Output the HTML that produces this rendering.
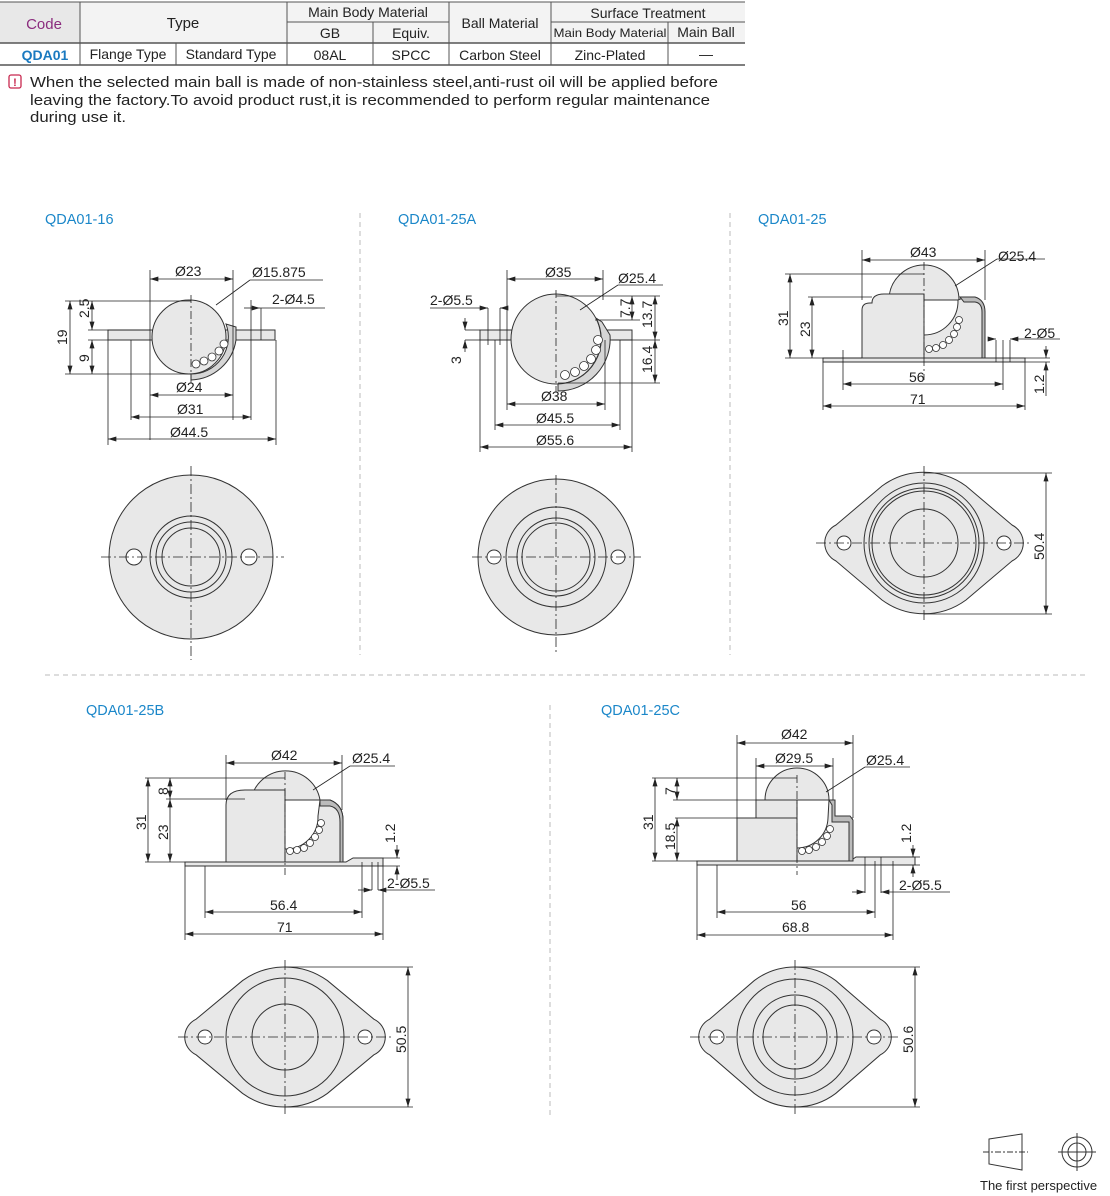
<!DOCTYPE html>
<html><head><meta charset="utf-8">
<style>
html,body{margin:0;padding:0;background:#fff;}
svg{display:block;}
text{font-family:"Liberation Sans",Arial,sans-serif;}
</style></head>
<body>
<svg width="1110" height="1196" viewBox="0 0 1110 1196" xmlns="http://www.w3.org/2000/svg">
<defs>
<marker id="a" viewBox="0 0 10 6" refX="10" refY="3" markerWidth="9" markerHeight="5" orient="auto-start-reverse" markerUnits="userSpaceOnUse"><path d="M0,0 L10,3 L0,6 Z" fill="#222"/></marker>
<path id="fl" d="M-88,-18 L-42,-57 A71,71 0 0 1 42,-57 L88,-18 A20,20 0 0 1 88,18 L42,57 A71,71 0 0 1 -42,57 L-88,18 A20,20 0 0 1 -88,-18 Z"/>
</defs>

<!-- TABLE -->
<rect x="0" y="2" width="80" height="41" fill="#e8e8e8"/>
<rect x="80" y="2" width="665" height="41" fill="#f3f3f3"/>
<g stroke="#555" stroke-width="1" fill="none">
<line x1="0" y1="2" x2="745" y2="2"/>
<line x1="0" y1="43" x2="745" y2="43" stroke-width="1.5"/>
<line x1="0" y1="65" x2="745" y2="65" stroke-width="1.5"/>
<line x1="287" y1="22" x2="449" y2="22"/>
<line x1="551" y1="22" x2="745" y2="22"/>
<line x1="80" y1="2" x2="80" y2="65"/>
<line x1="176" y1="43" x2="176" y2="65"/>
<line x1="287" y1="2" x2="287" y2="65"/>
<line x1="373" y1="22" x2="373" y2="65"/>
<line x1="449" y1="2" x2="449" y2="65"/>
<line x1="551" y1="2" x2="551" y2="65"/>
<line x1="668" y1="22" x2="668" y2="65"/>
</g>
<g font-size="14" fill="#222" text-anchor="middle">
<text x="44" y="29" fill="#8b2c7e" font-size="15">Code</text>
<text x="183" y="28" font-size="15">Type</text>
<text x="368" y="17">Main Body Material</text>
<text x="330" y="38">GB</text>
<text x="411" y="38">Equiv.</text>
<text x="500" y="28">Ball Material</text>
<text x="648" y="18">Surface Treatment</text>
<text x="610" y="37" font-size="12" textLength="113" lengthAdjust="spacingAndGlyphs">Main Body Material</text>
<text x="706" y="37">Main Ball</text>
<text x="45" y="60" fill="#1a7ac0" font-weight="bold">QDA01</text>
<text x="128" y="59">Flange Type</text>
<text x="231" y="59">Standard Type</text>
<text x="330" y="60">08AL</text>
<text x="411" y="60">SPCC</text>
<text x="500" y="60">Carbon Steel</text>
<text x="610" y="60">Zinc-Plated</text>
<text x="706" y="59">—</text>
</g>
<rect x="9" y="75" width="12" height="13" rx="2" fill="#fff" stroke="#c8284f" stroke-width="1.3"/>
<text x="15" y="86" font-size="11" fill="#c8284f" text-anchor="middle" font-weight="bold">!</text>
<g font-size="14.5" fill="#222">
<text x="30" y="87" textLength="688" lengthAdjust="spacingAndGlyphs">When the selected main ball is made of non-stainless steel,anti-rust oil will be applied before</text>
<text x="30" y="105" textLength="680" lengthAdjust="spacingAndGlyphs">leaving the factory.To avoid product rust,it is recommended to perform regular maintenance</text>
<text x="30" y="122" textLength="96" lengthAdjust="spacingAndGlyphs">during use it.</text>
</g>

<!-- separators -->
<g stroke="#bbb" stroke-dasharray="5,4" stroke-width="1">
<line x1="360" y1="213" x2="360" y2="655"/>
<line x1="730" y1="213" x2="730" y2="655"/>
<line x1="45" y1="675" x2="1088" y2="675"/>
<line x1="550" y1="705" x2="550" y2="1115"/>
</g>

<!-- titles -->
<g font-size="14.5" fill="#1b87c9">
<text x="45" y="224">QDA01-16</text>
<text x="398" y="224">QDA01-25A</text>
<text x="758" y="224">QDA01-25</text>
<text x="86" y="715">QDA01-25B</text>
<text x="601" y="715">QDA01-25C</text>
</g>

<g font-size="14" fill="#222">
<!-- ============ QDA01-16 side ============ -->
<g stroke="#333" stroke-width="1" fill="#e8e8e8">
<rect x="108" y="330" width="167" height="10"/>
<circle cx="189" cy="337" r="37"/>
<path d="M191,374 A37,37 0 0 0 226,324 L236,327 L236,340 A47,47 0 0 1 191,380 Z" fill="#d6d6d6"/>
</g>
<g fill="#fff" stroke="#333" stroke-width="0.8">
<circle cx="196" cy="364" r="4"/><circle cx="204" cy="361" r="4"/><circle cx="212" cy="357" r="4"/><circle cx="219" cy="351" r="4"/><circle cx="224" cy="344" r="4"/>
</g>
<g stroke="#222" stroke-width="0.8" fill="none">
<line x1="191" y1="295" x2="191" y2="384" stroke-dasharray="8,3,2,3"/>
<line x1="150" y1="270" x2="150" y2="440"/><line x1="233" y1="270" x2="233" y2="420"/>
<line x1="131" y1="340" x2="131" y2="420"/><line x1="251" y1="300" x2="251" y2="420"/>
<line x1="108" y1="340" x2="108" y2="445"/><line x1="276" y1="340" x2="276" y2="445"/>
<line x1="150" y1="279" x2="233" y2="279" marker-start="url(#a)" marker-end="url(#a)"/>
<line x1="150" y1="395" x2="233" y2="395" marker-start="url(#a)" marker-end="url(#a)"/>
<line x1="131" y1="417" x2="251" y2="417" marker-start="url(#a)" marker-end="url(#a)"/>
<line x1="108" y1="439" x2="276" y2="439" marker-start="url(#a)" marker-end="url(#a)"/>
<line x1="65" y1="301" x2="191" y2="301"/><line x1="65" y1="374" x2="191" y2="374"/>
<line x1="70" y1="301" x2="70" y2="374" marker-start="url(#a)" marker-end="url(#a)"/>
<line x1="92" y1="301" x2="92" y2="330" marker-start="url(#a)" marker-end="url(#a)"/>
<line x1="92" y1="340" x2="92" y2="374" marker-start="url(#a)" marker-end="url(#a)"/>
<line x1="88" y1="330" x2="150" y2="330"/><line x1="88" y1="340" x2="108" y2="340"/>
<line x1="216" y1="305" x2="250" y2="280"/><line x1="250" y1="280" x2="323" y2="280"/>
<line x1="260" y1="308" x2="325" y2="308"/>
<line x1="244" y1="308" x2="260" y2="308" marker-end="url(#a)"/>
<line x1="261" y1="308" x2="261" y2="340"/>
</g>
<text x="175" y="276">Ø23</text><text x="252" y="277">Ø15.875</text><text x="272" y="304">2-Ø4.5</text>
<text x="176" y="392">Ø24</text><text x="177" y="414">Ø31</text><text x="170" y="437">Ø44.5</text>
<text transform="translate(67,345) rotate(-90)">19</text>
<text transform="translate(89,318) rotate(-90)">2.5</text>
<text transform="translate(89,362) rotate(-90)">9</text>

<!-- top view 1 -->
<g stroke="#333" stroke-width="1" fill="#e8e8e8">
<circle cx="191" cy="557" r="82"/>
<circle cx="191" cy="557" r="41" fill="none"/><circle cx="191" cy="557" r="35" fill="none"/><circle cx="191" cy="557" r="29" fill="none"/>
<circle cx="134" cy="557" r="8" fill="#fff"/><circle cx="249" cy="557" r="8" fill="#fff"/>
</g>
<g stroke="#222" stroke-width="0.8" stroke-dasharray="10,3,2,3">
<line x1="101" y1="557" x2="284" y2="557"/><line x1="191" y1="466" x2="191" y2="660"/>
</g>

<!-- ============ QDA01-25A side ============ -->
<g stroke="#333" stroke-width="1" fill="#e8e8e8">
<rect x="480" y="330" width="152" height="10"/>
<circle cx="556" cy="339" r="45"/>
<path d="M558,384 A45,45 0 0 0 596,318 L602,322 L610,335 A52,52 0 0 1 558,391 Z" fill="#d6d6d6"/>
</g>
<g fill="#fff" stroke="#333" stroke-width="0.8">
<circle cx="565" cy="375" r="4.5"/><circle cx="575" cy="372" r="4.5"/><circle cx="584" cy="366" r="4.5"/><circle cx="591" cy="359" r="4.5"/><circle cx="596" cy="350" r="4.5"/><circle cx="598" cy="340" r="4.5"/>
</g>
<g stroke="#222" stroke-width="0.8" fill="none">
<line x1="556" y1="290" x2="556" y2="392" stroke-dasharray="8,3,2,3"/>
<line x1="507" y1="270" x2="507" y2="410"/><line x1="603" y1="270" x2="603" y2="300"/><line x1="605" y1="340" x2="605" y2="410"/>
<line x1="495" y1="340" x2="495" y2="430"/><line x1="620" y1="340" x2="620" y2="430"/>
<line x1="480" y1="340" x2="480" y2="452"/><line x1="632" y1="340" x2="632" y2="452"/>
<line x1="507" y1="279" x2="603" y2="279" marker-start="url(#a)" marker-end="url(#a)"/>
<line x1="507" y1="404" x2="605" y2="404" marker-start="url(#a)" marker-end="url(#a)"/>
<line x1="495" y1="425" x2="620" y2="425" marker-start="url(#a)" marker-end="url(#a)"/>
<line x1="480" y1="447" x2="632" y2="447" marker-start="url(#a)" marker-end="url(#a)"/>
<line x1="430" y1="308" x2="478" y2="308"/><line x1="478" y1="308" x2="488" y2="308" marker-end="url(#a)"/>
<line x1="488" y1="308" x2="488" y2="345"/><line x1="500" y1="308" x2="500" y2="345"/>
<line x1="508" y1="308" x2="500" y2="308" marker-end="url(#a)"/>
<line x1="465" y1="330" x2="480" y2="330"/><line x1="465" y1="340" x2="480" y2="340"/>
<line x1="465" y1="318" x2="465" y2="330" marker-end="url(#a)"/><line x1="465" y1="352" x2="465" y2="340" marker-end="url(#a)"/>
<line x1="556" y1="296" x2="660" y2="296"/><line x1="595" y1="320" x2="640" y2="320"/>
<line x1="612" y1="340" x2="660" y2="340"/><line x1="558" y1="383" x2="660" y2="383"/>
<line x1="632" y1="296" x2="632" y2="320" marker-start="url(#a)" marker-end="url(#a)"/>
<line x1="655" y1="296" x2="655" y2="340" marker-start="url(#a)" marker-end="url(#a)"/>
<line x1="655" y1="340" x2="655" y2="383" marker-start="url(#a)" marker-end="url(#a)"/>
<line x1="580" y1="310" x2="618" y2="285"/><line x1="618" y1="285" x2="663" y2="285"/>
</g>
<text x="545" y="277">Ø35</text><text x="618" y="283">Ø25.4</text><text x="430" y="305">2-Ø5.5</text>
<text x="541" y="401">Ø38</text><text x="536" y="423">Ø45.5</text><text x="536" y="445">Ø55.6</text>
<text transform="translate(461,364) rotate(-90)">3</text>
<text transform="translate(630,318) rotate(-90)">7.7</text>
<text transform="translate(652,328) rotate(-90)">13.7</text>
<text transform="translate(652,373) rotate(-90)">16.4</text>

<!-- top view 2 -->
<g stroke="#333" stroke-width="1" fill="#e8e8e8">
<circle cx="556" cy="557" r="78"/>
<circle cx="556" cy="557" r="50" fill="none"/><circle cx="556" cy="557" r="39" fill="none"/><circle cx="556" cy="557" r="34" fill="none"/>
<circle cx="494" cy="557" r="7" fill="#fff"/><circle cx="618" cy="557" r="7" fill="#fff"/>
</g>
<g stroke="#222" stroke-width="0.8" stroke-dasharray="10,3,2,3">
<line x1="472" y1="557" x2="641" y2="557"/><line x1="556" y1="475" x2="556" y2="655"/>
</g>

<!-- ============ QDA01-25 side ============ -->
<g stroke="#333" stroke-width="1" fill="#e8e8e8">
<rect x="823" y="358" width="202" height="4"/>
<path d="M889,300 A35,35 0 0 1 959,300 Z"/>
<path d="M862,358 L862,310 Q862,303 870,303 L872,303 Q872,294 884,294 L924,294 L924,358 Z"/>
<path d="M924,358 L924,335 A34,34 0 0 0 958,300 L965,297 L977,300 Q985,304 985,315 L985,358 Z"/>
<path d="M960,297 L975,297 Q985,300 985,312 L985,358 L982,358 L982,312 Q982,303 975,302 L964,302 Z" fill="#bbb"/>
</g>
<g fill="#fff" stroke="#333" stroke-width="0.8">
<circle cx="929" cy="349" r="3.5"/><circle cx="936" cy="348" r="3.5"/><circle cx="943" cy="345" r="3.5"/><circle cx="949" cy="340" r="3.5"/><circle cx="954" cy="334" r="3.5"/><circle cx="957" cy="327" r="3.5"/><circle cx="959" cy="320" r="3.5"/>
</g>
<g stroke="#222" stroke-width="0.8" fill="none">
<line x1="924" y1="262" x2="924" y2="380" stroke-dasharray="8,3,2,3"/>
<line x1="862" y1="250" x2="862" y2="300"/><line x1="985" y1="250" x2="985" y2="300"/>
<line x1="862" y1="260" x2="985" y2="260" marker-start="url(#a)" marker-end="url(#a)"/>
<line x1="843" y1="350" x2="843" y2="390"/><line x1="1003" y1="340" x2="1003" y2="390"/>
<line x1="823" y1="362" x2="823" y2="410"/><line x1="1025" y1="362" x2="1025" y2="410"/>
<line x1="843" y1="384" x2="1003" y2="384" marker-start="url(#a)" marker-end="url(#a)"/>
<line x1="823" y1="406" x2="1025" y2="406" marker-start="url(#a)" marker-end="url(#a)"/>
<line x1="785" y1="274" x2="924" y2="274"/><line x1="785" y1="358" x2="862" y2="358"/>
<line x1="808" y1="297" x2="872" y2="297"/>
<line x1="790" y1="274" x2="790" y2="358" marker-start="url(#a)" marker-end="url(#a)"/>
<line x1="812" y1="297" x2="812" y2="358" marker-start="url(#a)" marker-end="url(#a)"/>
<line x1="955" y1="286" x2="997" y2="259"/><line x1="997" y1="259" x2="1045" y2="259"/>
<line x1="996" y1="340" x2="996" y2="362"/><line x1="1010" y1="340" x2="1010" y2="362"/>
<line x1="988" y1="339" x2="996" y2="339" marker-end="url(#a)"/><line x1="1060" y1="339" x2="1010" y2="339" marker-end="url(#a)"/>
<line x1="1025" y1="358" x2="1050" y2="358"/><line x1="1025" y1="362" x2="1050" y2="362"/>
<line x1="1046" y1="346" x2="1046" y2="358" marker-end="url(#a)"/><line x1="1046" y1="374" x2="1046" y2="362" marker-end="url(#a)"/>
<line x1="1046" y1="374" x2="1046" y2="396"/>
</g>
<text x="910" y="257">Ø43</text><text x="998" y="261">Ø25.4</text><text x="1024" y="338">2-Ø5</text>
<text x="909" y="382">56</text><text x="910" y="404">71</text>
<text transform="translate(788,326) rotate(-90)">31</text>
<text transform="translate(810,337) rotate(-90)">23</text>
<text transform="translate(1044,394) rotate(-90)">1.2</text>

<!-- top view 3 -->
<use href="#fl" transform="translate(924,543)" fill="#e8e8e8" stroke="#333" stroke-width="1"/>
<g stroke="#333" stroke-width="1" fill="none">
<circle cx="924" cy="543" r="60"/><circle cx="924" cy="543" r="55"/><circle cx="924" cy="543" r="52"/><circle cx="924" cy="543" r="34"/>
<circle cx="844" cy="543" r="7" fill="#fff"/><circle cx="1004" cy="543" r="7" fill="#fff"/>
</g>
<g stroke="#222" stroke-width="0.8" fill="none">
<line x1="816" y1="543" x2="1030" y2="543" stroke-dasharray="10,3,2,3"/><line x1="924" y1="466" x2="924" y2="620" stroke-dasharray="10,3,2,3"/>
<line x1="924" y1="473" x2="1052" y2="473"/><line x1="924" y1="614" x2="1052" y2="614"/>
<line x1="1046" y1="473" x2="1046" y2="614" marker-start="url(#a)" marker-end="url(#a)"/>
</g>
<text transform="translate(1044,560) rotate(-90)">50.4</text>

<!-- ============ QDA01-25B side ============ -->
<g stroke="#333" stroke-width="1" fill="#e8e8e8">
<path d="M185,862 L346,862 L353,858 L383,858 L383,866 L185,866 Z"/>
<path d="M251,800 A35,35 0 0 1 320,800 Z"/>
<path d="M226,862 L226,805 Q226,790 245,790 L285,790 L285,862 Z"/>
<path d="M285,862 L285,849 A32,32 0 0 0 318,816 L320,800 L330,800 Q343,805 343,820 L343,862 Z"/>
<path d="M320,800 L330,800 Q343,805 343,820 L343,862 L340,862 L340,822 Q340,808 330,806 L320,806 Z" fill="#bbb"/>
</g>
<g fill="#fff" stroke="#333" stroke-width="0.8">
<circle cx="290" cy="851" r="3.5"/><circle cx="297" cy="850" r="3.5"/><circle cx="304" cy="848" r="3.5"/><circle cx="310" cy="843" r="3.5"/><circle cx="315" cy="837" r="3.5"/><circle cx="319" cy="830" r="3.5"/><circle cx="321" cy="823" r="3.5"/>
</g>
<g stroke="#222" stroke-width="0.8" fill="none">
<line x1="285" y1="772" x2="285" y2="875" stroke-dasharray="8,3,2,3"/>
<line x1="226" y1="755" x2="226" y2="800"/><line x1="342" y1="755" x2="342" y2="810"/>
<line x1="226" y1="763" x2="342" y2="763" marker-start="url(#a)" marker-end="url(#a)"/>
<line x1="205" y1="866" x2="205" y2="918"/><line x1="362" y1="862" x2="362" y2="918"/>
<line x1="185" y1="866" x2="185" y2="940"/><line x1="383" y1="866" x2="383" y2="940"/>
<line x1="205" y1="912" x2="362" y2="912" marker-start="url(#a)" marker-end="url(#a)"/>
<line x1="185" y1="934" x2="383" y2="934" marker-start="url(#a)" marker-end="url(#a)"/>
<line x1="145" y1="778" x2="285" y2="778"/><line x1="166" y1="799" x2="245" y2="799"/><line x1="145" y1="862" x2="185" y2="862"/>
<line x1="148" y1="778" x2="148" y2="862" marker-start="url(#a)" marker-end="url(#a)"/>
<line x1="170" y1="778" x2="170" y2="799" marker-start="url(#a)" marker-end="url(#a)"/>
<line x1="170" y1="799" x2="170" y2="862" marker-start="url(#a)" marker-end="url(#a)"/>
<line x1="313" y1="790" x2="350" y2="766"/><line x1="350" y1="766" x2="395" y2="766"/>
<line x1="372" y1="862" x2="372" y2="890"/><line x1="378" y1="862" x2="378" y2="890"/>
<line x1="358" y1="890" x2="372" y2="890" marker-end="url(#a)"/><line x1="435" y1="890" x2="378" y2="890" marker-end="url(#a)"/>
<line x1="383" y1="858" x2="400" y2="858"/><line x1="383" y1="866" x2="400" y2="866"/>
<line x1="397" y1="845" x2="397" y2="858" marker-end="url(#a)"/><line x1="397" y1="880" x2="397" y2="866" marker-end="url(#a)"/>
</g>
<text x="271" y="760">Ø42</text><text x="352" y="763">Ø25.4</text><text x="387" y="888">2-Ø5.5</text>
<text x="270" y="910">56.4</text><text x="277" y="932">71</text>
<text transform="translate(146,830) rotate(-90)">31</text>
<text transform="translate(168,795) rotate(-90)">8</text>
<text transform="translate(168,840) rotate(-90)">23</text>
<text transform="translate(395,843) rotate(-90)">1.2</text>

<!-- top view 4 -->
<use href="#fl" transform="translate(285,1037) scale(1.01,0.99)" fill="#e8e8e8" stroke="#333" stroke-width="1"/>
<g stroke="#333" stroke-width="1" fill="none">
<circle cx="285" cy="1037" r="59"/><circle cx="285" cy="1037" r="33"/>
<circle cx="205" cy="1037" r="7" fill="#fff"/><circle cx="365" cy="1037" r="7" fill="#fff"/>
</g>
<g stroke="#222" stroke-width="0.8" fill="none">
<line x1="178" y1="1037" x2="392" y2="1037" stroke-dasharray="10,3,2,3"/><line x1="285" y1="960" x2="285" y2="1114" stroke-dasharray="10,3,2,3"/>
<line x1="285" y1="967" x2="413" y2="967"/><line x1="285" y1="1107" x2="413" y2="1107"/>
<line x1="408" y1="967" x2="408" y2="1107" marker-start="url(#a)" marker-end="url(#a)"/>
</g>
<text transform="translate(406,1053) rotate(-90)">50.5</text>

<!-- ============ QDA01-25C side ============ -->
<g stroke="#333" stroke-width="1" fill="#e8e8e8">
<path d="M697,861 L850,861 L856,857 L915,857 L915,865 L697,865 Z"/>
<path d="M765,800 A32,32 0 0 1 829,800 Z"/>
<rect x="756" y="800" width="41" height="18"/>
<rect x="737" y="818" width="60" height="43"/>
<path d="M797,861 L797,848 A31,31 0 0 0 828,818 L829,800 L835,800 L835,818 L852,818 Q853,820 853,830 L853,861 Z"/>
<path d="M829,800 L835,800 L835,816 L850,816 L853,820 L853,861 L849,861 L849,822 L832,822 L832,805 Z" fill="#bbb"/>
</g>
<g fill="#fff" stroke="#333" stroke-width="0.8">
<circle cx="802" cy="851" r="3.5"/><circle cx="809" cy="850" r="3.5"/><circle cx="816" cy="847" r="3.5"/><circle cx="822" cy="842" r="3.5"/><circle cx="827" cy="836" r="3.5"/><circle cx="830" cy="829" r="3.5"/>
</g>
<g stroke="#222" stroke-width="0.8" fill="none">
<line x1="797" y1="775" x2="797" y2="875" stroke-dasharray="8,3,2,3"/>
<line x1="737" y1="735" x2="737" y2="818"/><line x1="853" y1="735" x2="853" y2="818"/>
<line x1="756" y1="758" x2="756" y2="800"/><line x1="833" y1="758" x2="833" y2="800"/>
<line x1="737" y1="743" x2="853" y2="743" marker-start="url(#a)" marker-end="url(#a)"/>
<line x1="756" y1="766" x2="833" y2="766" marker-start="url(#a)" marker-end="url(#a)"/>
<line x1="717" y1="865" x2="717" y2="918"/><line x1="875" y1="861" x2="875" y2="918"/>
<line x1="697" y1="865" x2="697" y2="940"/><line x1="893" y1="861" x2="893" y2="940"/>
<line x1="717" y1="912" x2="875" y2="912" marker-start="url(#a)" marker-end="url(#a)"/>
<line x1="697" y1="935" x2="893" y2="935" marker-start="url(#a)" marker-end="url(#a)"/>
<line x1="652" y1="778" x2="797" y2="778"/><line x1="673" y1="800" x2="756" y2="800"/><line x1="675" y1="818" x2="737" y2="818"/><line x1="652" y1="861" x2="697" y2="861"/>
<line x1="655" y1="778" x2="655" y2="861" marker-start="url(#a)" marker-end="url(#a)"/>
<line x1="677" y1="778" x2="677" y2="800" marker-start="url(#a)" marker-end="url(#a)"/>
<line x1="677" y1="818" x2="677" y2="861" marker-start="url(#a)" marker-end="url(#a)"/>
<line x1="826" y1="792" x2="865" y2="767"/><line x1="865" y1="767" x2="910" y2="767"/>
<line x1="865" y1="857" x2="865" y2="893"/><line x1="881" y1="857" x2="881" y2="893"/>
<line x1="852" y1="892" x2="865" y2="892" marker-end="url(#a)"/><line x1="950" y1="892" x2="881" y2="892" marker-end="url(#a)"/>
<line x1="915" y1="857" x2="920" y2="857"/><line x1="915" y1="865" x2="920" y2="865"/>
<line x1="913" y1="845" x2="913" y2="857" marker-end="url(#a)"/><line x1="913" y1="877" x2="913" y2="865" marker-end="url(#a)"/>
</g>
<text x="781" y="739">Ø42</text><text x="775" y="763">Ø29.5</text><text x="866" y="765">Ø25.4</text><text x="899" y="890">2-Ø5.5</text>
<text x="791" y="910">56</text><text x="782" y="932">68.8</text>
<text transform="translate(653,830) rotate(-90)">31</text>
<text transform="translate(675,795) rotate(-90)">7</text>
<text transform="translate(675,850) rotate(-90)">18.5</text>
<text transform="translate(911,843) rotate(-90)">1.2</text>

<!-- top view 5 -->
<use href="#fl" transform="translate(795,1037) scale(0.97,0.99)" fill="#e8e8e8" stroke="#333" stroke-width="1"/>
<g stroke="#333" stroke-width="1" fill="none">
<circle cx="795" cy="1037" r="58"/><circle cx="795" cy="1037" r="42"/><circle cx="795" cy="1037" r="32"/>
<circle cx="717" cy="1037" r="7" fill="#fff"/><circle cx="874" cy="1037" r="7" fill="#fff"/>
</g>
<g stroke="#222" stroke-width="0.8" fill="none">
<line x1="690" y1="1037" x2="900" y2="1037" stroke-dasharray="10,3,2,3"/><line x1="795" y1="960" x2="795" y2="1114" stroke-dasharray="10,3,2,3"/>
<line x1="795" y1="967" x2="920" y2="967"/><line x1="795" y1="1107" x2="920" y2="1107"/>
<line x1="915" y1="967" x2="915" y2="1107" marker-start="url(#a)" marker-end="url(#a)"/>
</g>
<text transform="translate(913,1053) rotate(-90)">50.6</text>

<!-- perspective icon -->
<g stroke="#333" stroke-width="1" fill="none">
<path d="M989,1139 L1022,1134 L1022,1170 L989,1164 Z"/>
<line x1="983" y1="1152" x2="1028" y2="1152" stroke-dasharray="6,2,2,2"/>
<circle cx="1077" cy="1152" r="15"/><circle cx="1077" cy="1152" r="9"/>
<line x1="1058" y1="1152" x2="1096" y2="1152"/><line x1="1077" y1="1133" x2="1077" y2="1171"/>
</g>
<text x="980" y="1190" font-size="13">The first perspective</text>
</g>
</svg>
</body></html>
